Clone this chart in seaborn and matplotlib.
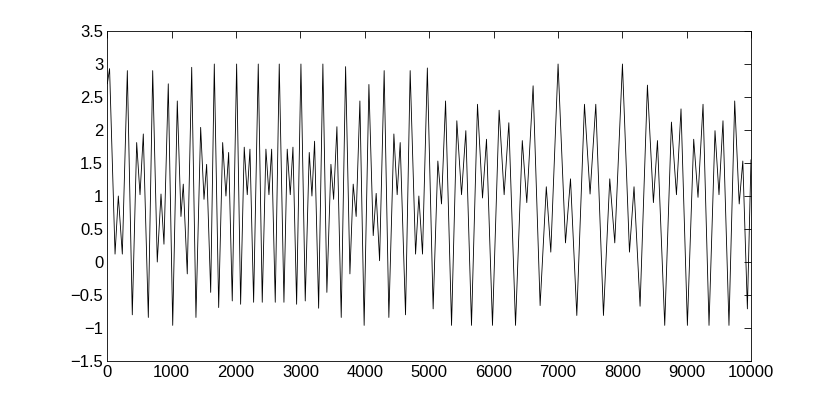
import numpy as np
import pandas as pd
import seaborn as sns
import matplotlib.pyplot as plt
from matplotlib.ticker import FuncFormatter

# Turning points of the signal (first half: 0-5000)
t_first = [0, 35, 120, 171, 233, 311, 388, 456, 508, 559, 637, 705, 776, 834, 880,
           947, 1016, 1087, 1144, 1180, 1242, 1311, 1377, 1450, 1502, 1543, 1606,
           1662, 1730, 1792, 1843, 1885, 1941, 2009, 2071, 2127, 2174, 2216, 2273,
           2345, 2407, 2464, 2511, 2553, 2609, 2671, 2744, 2795, 2842, 2884, 2941,
           3008, 3075, 3137, 3179, 3220, 3283, 3349, 3411, 3474, 3516, 3567, 3634,
           3702, 3769, 3820, 3866, 3924, 3990, 4064, 4131, 4177, 4230, 4301, 4374,
           4452, 4503, 4550, 4633, 4705, 4789, 4840, 4897, 4972]
y_first = [2.7, 2.93, 0.12, 1.0, 0.12, 2.9, -0.80, 1.81, 1.02, 1.94, -0.84, 2.9, 0.0,
           1.03, 0.27, 2.7, -0.96, 2.44, 0.69, 1.18, -0.18, 2.95, -0.84, 2.04, 0.95,
           1.48, -0.46, 3.0, -0.69, 1.81, 1.0, 1.66, -0.59, 3.0, -0.64, 1.74, 1.02,
           1.71, -0.61, 3.0, -0.61, 1.71, 1.02, 1.71, -0.61, 3.0, -0.61, 1.71, 1.02,
           1.74, -0.64, 3.0, -0.59, 1.66, 1.0, 1.83, -0.70, 3.0, -0.46, 1.48, 0.95,
           2.05, -0.84, 2.96, -0.18, 1.18, 0.69, 2.44, -0.96, 2.69, 0.40, 1.04, 0.02,
           2.9, -0.84, 1.94, 1.02, 1.81, -0.80, 2.9, 0.12, 1.0, 0.12, 2.94]

# second half: 5000-10000
t_second = [5062, 5135, 5192, 5255, 5348, 5430, 5503, 5570, 5658, 5751, 5829, 5891,
            5984, 6087, 6165, 6238, 6342, 6447, 6517, 6615, 6724, 6820, 6890, 7003,
            7118, 7196, 7294, 7413, 7500, 7589, 7708, 7806, 7884, 8003, 8112, 8183,
            8277, 8391, 8484, 8547, 8660, 8764, 8842, 8913, 9012, 9110, 9177, 9255,
            9348, 9441, 9503, 9565, 9658, 9747, 9817, 9873, 9944, 10000]
y_second = [-0.71, 1.53, 0.88, 2.44, -0.96, 2.14, 1.02, 1.99, -0.96, 2.39, 0.97, 1.86,
            -0.96, 2.30, 1.02, 2.11, -0.96, 1.84, 0.90, 2.67, -0.66, 1.14, 0.15, 3.0,
            0.29, 1.26, -0.81, 2.39, 1.03, 2.39, -0.81, 1.26, 0.29, 3.0, 0.15, 1.14,
            -0.67, 2.68, 0.90, 1.84, -0.96, 2.12, 1.02, 2.32, -0.96, 1.86, 0.98, 2.39,
            -0.96, 1.99, 1.02, 2.14, -0.96, 2.44, 0.88, 1.53, -0.71, 1.55]

x_ticks = list(range(0, 10001, 1000))
y_ticks = [-1.5, -1, -0.5, 0, 0.5, 1, 1.5, 2, 2.5, 3, 3.5]

df = pd.DataFrame({'t': t_first + t_second, 'y': y_first + y_second})

sns.set_style('white')
plt.rcParams['font.family'] = ['Liberation Sans', 'DejaVu Sans']

fig = plt.figure(figsize=(8.3, 4.07), dpi=100)
ax = fig.add_axes([0.1293, 0.113, 0.7755, 0.8108])
sns.lineplot(data=df, x='t', y='y', ax=ax, color='black', linewidth=0.6,
             estimator=None, sort=False)

ax.set_xlim(0, 10000)
ax.set_ylim(-1.5, 3.5)
ax.set_xticks(x_ticks)
ax.set_yticks(y_ticks)
ax.yaxis.set_major_formatter(FuncFormatter(lambda v, p: '%g' % v if v >= 0 else '\u2212%g' % -v))
ax.set_xlabel('')
ax.set_ylabel('')
ax.tick_params(direction='in', top=True, right=True, length=5, width=0.6,
               labelsize=12, colors='black', pad=3)
for s in ax.spines.values():
    s.set_color('black')
    s.set_linewidth(0.6)

fig.savefig('out.png', dpi=100)
